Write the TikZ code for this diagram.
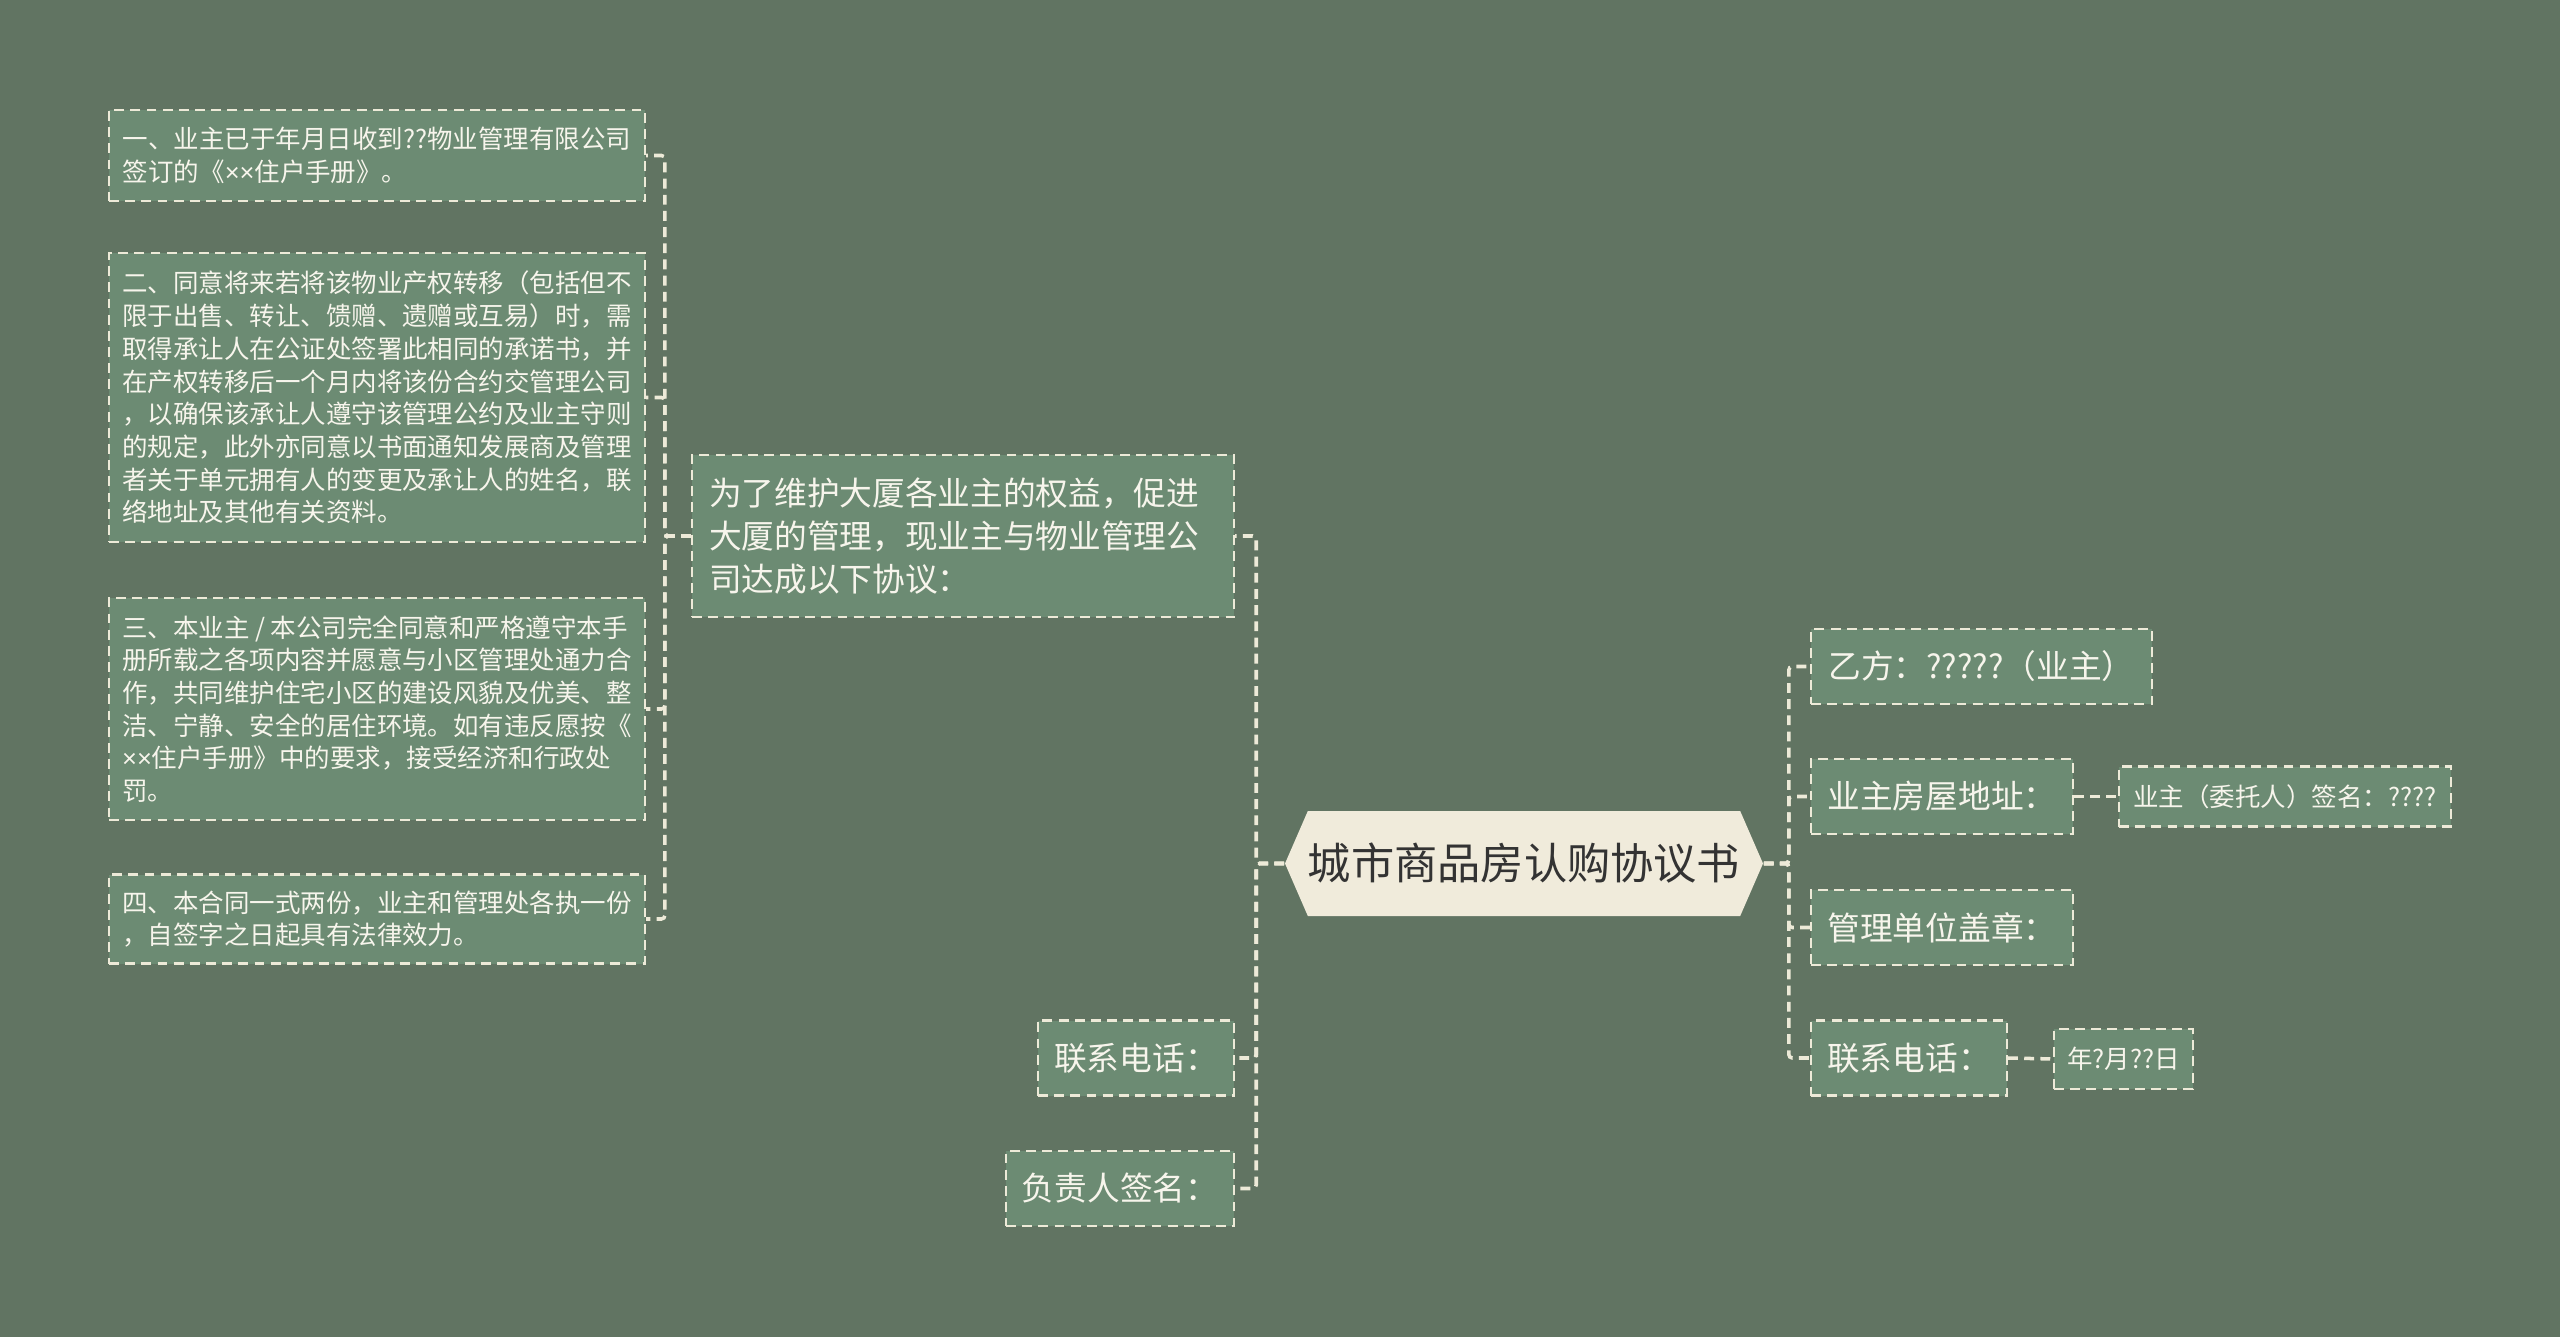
\documentclass[tikz,border=0pt]{standalone}
\usepackage{fontspec}
\setmainfont{Noto Sans CJK SC}
\newfontfamily\latinfont{Liberation Sans}
\newcommand\timesmark{{\latinfont ×}}
\usetikzlibrary{shapes.symbols}
\definecolor{bgcol}{HTML}{617462}
\definecolor{boxcol}{HTML}{6C8B73}
\definecolor{linecol}{HTML}{EDEAD8}
\definecolor{rootcol}{HTML}{F0EBDB}
\definecolor{roottext}{HTML}{333333}
\definecolor{leaftext}{HTML}{F7F5EC}

\begin{document}
\begin{tikzpicture}[
    leaf/.style={draw=linecol,dash pattern=on 2.8pt off 1.8pt,line width=0.6pt,fill=boxcol,text=leaftext,inner sep=0pt,align=left},
    clause/.style={leaf,font=\fontsize{7.25pt}{9.3pt}\selectfont,minimum width=5.36cm},
    item/.style={leaf,font=\fontsize{9.3pt}{12.3pt}\selectfont,minimum height=0.75cm},
    note/.style={leaf,font=\fontsize{7.25pt}{9.3pt}\selectfont,minimum height=0.6cm},
    link/.style={linecol,line width=1pt,dash pattern=on 2.8pt off 1.8pt,rounded corners=1pt},
]
\fill[bgcol] (0,0) rectangle (25.6,-13.37);
\node[signal,signal to=west and east,signal pointer angle=133,fill=rootcol,minimum width=4.78cm,minimum height=1.05cm,inner sep=0pt,font=\fontsize{12.3pt}{14pt}\selectfont,text=roottext] (root) at (15.24,-8.635) {城市商品房认购协议书};
\node[item,minimum width=5.42cm,minimum height=1.62cm,text width=5.08cm] (p) at (9.63,-5.36) {为了维护大厦各业主的权益，促进\\大厦的管理，现业主与物业管理公\\司达成以下协议：};
\node[clause,minimum height=0.91cm] (b1) at (3.77,-1.555) {一、业主已于年月日收到??物业管理有限公司\\签订的《\timesmark\timesmark 住户手册》。};
\node[clause,minimum height=2.89cm] (b2) at (3.77,-3.975) {二、同意将来若将该物业产权转移（包括但不\\限于出售、转让、馈赠、遗赠或互易）时，需\\取得承让人在公证处签署此相同的承诺书，并\\在产权转移后一个月内将该份合约交管理公司\\，以确保该承让人遵守该管理公约及业主守则\\的规定，此外亦同意以书面通知发展商及管理\\者关于单元拥有人的变更及承让人的姓名，联\\络地址及其他有关资料。};
\node[clause,minimum height=2.22cm] (b3) at (3.77,-7.09) {三、本业主 / 本公司完全同意和严格遵守本手\\册所载之各项内容并愿意与小区管理处通力合\\作，共同维护住宅小区的建设风貌及优美、整\\洁、宁静、安全的居住环境。如有违反愿按《\\\timesmark\timesmark 住户手册》中的要求，接受经济和行政处\\罚。};
\node[clause,minimum height=0.89cm] (b4) at (3.77,-9.19) {四、本合同一式两份，业主和管理处各执一份\\，自签字之日起具有法律效力。};
\node[item,minimum width=1.96cm] (l1) at (11.36,-10.58) {联系电话：};
\node[item,minimum width=2.28cm] (l2) at (11.20,-11.885) {负责人签名：};
\node[item,minimum width=3.41cm] (r1) at (19.815,-6.665) {乙方：?????（业主）};
\node[item,minimum width=2.62cm] (r2) at (19.42,-7.965) {业主房屋地址：};
\node[item,minimum width=2.62cm] (r3) at (19.42,-9.275) {管理单位盖章：};
\node[item,minimum width=1.96cm] (r4) at (19.09,-10.58) {联系电话：};
\node[note,minimum width=3.32cm] (s1) at (22.85,-7.965) {业主（委托人）签名：????};
\node[note,minimum width=1.39cm] (s2) at (21.235,-10.59) {年?月??日};
\foreach \n in {b1,b2,b3,b4}
    \draw[link] (p.west) -- ++(-0.26,0) |- (\n.east);
\foreach \n in {p,l1,l2}
    \draw[link] (root.west) -- ++(-0.28,0) |- (\n.east);
\foreach \n in {r1,r2,r3,r4}
    \draw[link] (root.east) -- ++(0.25,0) |- (\n.west);
\draw[link] (r2.east) -- (s1.west);
\draw[link] (r4.east) -- (s2.west);
\end{tikzpicture}
\end{document}
